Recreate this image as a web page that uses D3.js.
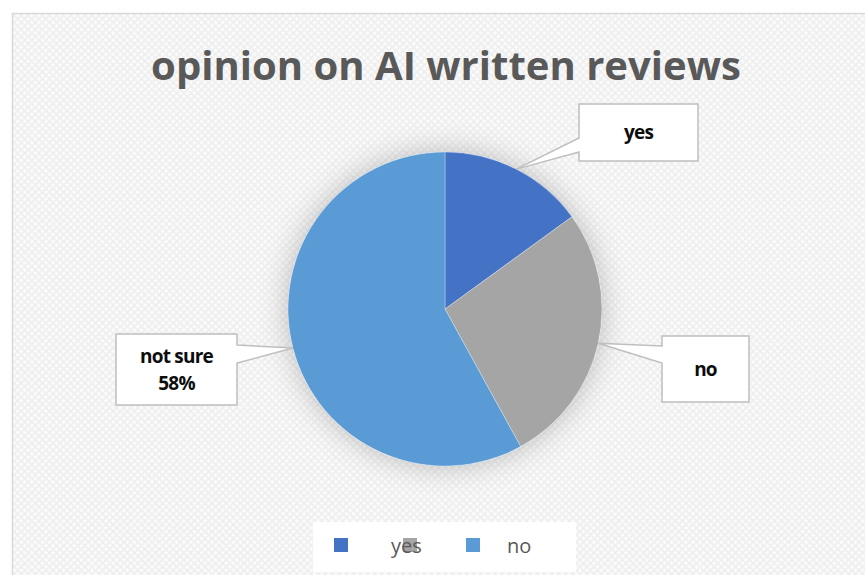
<!DOCTYPE html>
<html>
<head>
<meta charset="utf-8">
<script src="https://cdn.jsdelivr.net/npm/d3@7"></script>
<style>
  html, body { margin: 0; padding: 0; background: #fff; }
  svg { display: block; }
  text { font-family: "Open Sans", "Liberation Sans", sans-serif; }
</style>
</head>
<body>
<svg id="chart" width="865" height="575"></svg>
<script>
// Survey answers
const categories = ["yes", "no", "not sure"];
const values = [15, 27, 58];
const colors = ["#4472C4", "#A5A5A5", "#5B9BD5"];
const labelShowsValue = [false, false, true];
const titleText = "opinion on AI written reviews";

const W = 865, H = 575;
const svg = d3.select("#chart");
const defs = svg.append("defs");

// faint diamond texture for the chart area
const pat = defs.append("pattern")
  .attr("id", "hatch").attr("width", 5).attr("height", 5)
  .attr("patternUnits", "userSpaceOnUse")
  .attr("patternTransform", "rotate(45)");
pat.append("rect").attr("width", 5).attr("height", 5).attr("fill", "#fbfbfb");
pat.append("rect").attr("width", 1.6).attr("height", 5).attr("fill", "#eeeeee");
pat.append("rect").attr("width", 5).attr("height", 1.6).attr("fill", "#eeeeee");

// soft glow under the pie
const glow = defs.append("filter").attr("id", "glow")
  .attr("x", "-30%").attr("y", "-30%").attr("width", "160%").attr("height", "160%");
glow.append("feGaussianBlur").attr("in", "SourceAlpha").attr("stdDeviation", 15).attr("result", "b");
glow.append("feFlood").attr("flood-color", "#000").attr("flood-opacity", 0.25);
glow.append("feComposite").attr("in2", "b").attr("operator", "in").attr("result", "s");
const merge = glow.append("feMerge");
merge.append("feMergeNode").attr("in", "s");
merge.append("feMergeNode").attr("in", "SourceGraphic");

// chart area
svg.append("rect").attr("x", 12.5).attr("y", 13.5).attr("width", W).attr("height", H)
  .attr("fill", "url(#hatch)").attr("stroke", "#d9d9d9").attr("stroke-width", 1.5);

// title
const title = svg.append("text")
  .attr("x", 446).attr("y", 80).attr("text-anchor", "middle")
  .attr("font-weight", 700).attr("font-size", 40).attr("fill", "#595959")
  .text(titleText);
const tw = title.node().getComputedTextLength();
title.attr("font-size", 40 * 590 / tw);

// pie
const cx = 445, cy = 309, R = 157;
const pie = d3.pie().sort(null).value(d => d.value);
const data = categories.map((c, i) => ({ name: c, value: values[i], color: colors[i], showValue: labelShowsValue[i] }));
const arcs = pie(data);
const total = d3.sum(values);
const arc = d3.arc().innerRadius(0).outerRadius(R);
const edge = d3.arc().innerRadius(R).outerRadius(R);

const g = svg.append("g").attr("transform", `translate(${cx},${cy})`);
g.append("circle").attr("r", R).attr("fill", "#fff").attr("filter", "url(#glow)");
g.selectAll("path.slice").data(arcs).join("path")
  .attr("class", "slice")
  .attr("d", arc)
  .attr("fill", d => d.data.color)
  .attr("stroke", "#ffffff").attr("stroke-width", 0.6).attr("stroke-opacity", 0.5);

// callout boxes: [x, y, w, h] in page coords, pointer base on the box side
const boxes = [
  { x: 579, y: 104, w: 119, h: 57, side: "left", b0: 138, b1: 152 },
  { x: 662, y: 336, w: 87, h: 66, side: "left", b0: 346, b1: 363 },
  { x: 116, y: 334, w: 121, h: 71, side: "right", b0: 345, b1: 363 }
];

arcs.forEach((a, i) => {
  const b = boxes[i];
  const [tx, ty] = edge.centroid(a);
  const tipX = cx + tx, tipY = cy + ty;
  const pts = b.side === "left"
    ? [[b.x, b.y], [b.x + b.w, b.y], [b.x + b.w, b.y + b.h], [b.x, b.y + b.h], [b.x, b.b1], [tipX, tipY], [b.x, b.b0]]
    : [[b.x, b.y], [b.x + b.w, b.y], [b.x + b.w, b.b0], [tipX, tipY], [b.x + b.w, b.b1], [b.x + b.w, b.y + b.h], [b.x, b.y + b.h]];
  svg.append("path")
    .attr("d", "M" + pts.map(p => p.join(",")).join("L") + "Z")
    .attr("fill", "#ffffff").attr("stroke", "#bfbfbf").attr("stroke-width", 1.5);

  const lines = [a.data.name];
  if (a.data.showValue) lines.push(Math.round(a.data.value / total * 100) + "%");
  const lh = 27;
  const midY = b.y + b.h / 2;
  lines.forEach((t, k) => {
    svg.append("text")
      .attr("x", b.x + b.w / 2)
      .attr("y", midY + (k - (lines.length - 1) / 2) * lh)
      .attr("dy", "0.35em")
      .attr("text-anchor", "middle")
      .attr("font-weight", 700).attr("font-size", 19).attr("fill", "#0d0d0d")
      .attr("letter-spacing", -0.8)
      .text(t);
  });
});

// legend
const lg = svg.append("g");
lg.append("rect").attr("x", 313).attr("y", 522).attr("width", 263).attr("height", 50)
  .attr("fill", "#ffffff");
const legendItems = [
  { color: colors[0], sx: 334, label: categories[0], tx: 391 },
  { color: colors[1], sx: 403, label: null, tx: 0 },
  { color: colors[2], sx: 466, label: categories[1], tx: 507 }
];
legendItems.forEach(it => {
  lg.append("rect").attr("x", it.sx).attr("y", 538).attr("width", 14).attr("height", 14).attr("fill", it.color);
});
legendItems.forEach(it => {
  if (it.label) lg.append("text").attr("x", it.tx).attr("y", 553)
    .attr("font-size", 20).attr("fill", "#595959").text(it.label);
});
</script>
</body>
</html>
